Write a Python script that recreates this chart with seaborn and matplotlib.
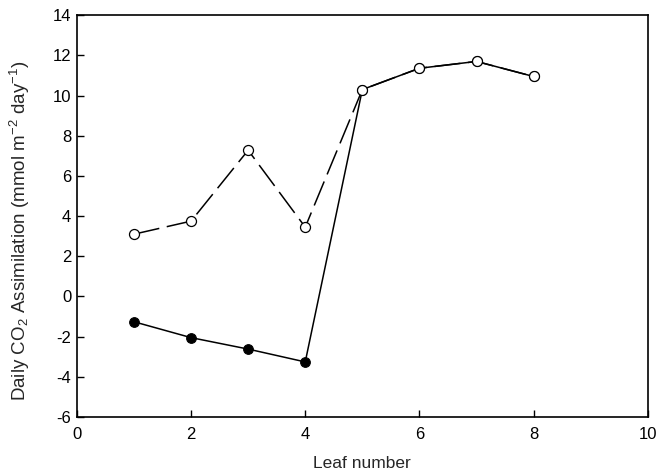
import matplotlib
matplotlib.use("Agg")
import matplotlib.pyplot as plt
import seaborn as sns
import pandas as pd

leaf = [1, 2, 3, 4, 5, 6, 7, 8]
open_vals = [3.1, 3.75, 7.28, 3.45, 10.3, 11.36, 11.7, 10.95]
filled_vals = [-1.26, -2.05, -2.62, -3.26, 10.3, 11.36, 11.7, 10.95]
x_ticks = [0, 2, 4, 6, 8, 10]
y_ticks = [-6, -4, -2, 0, 2, 4, 6, 8, 10, 12, 14]

sns.set_style("ticks")
plt.rcParams["font.family"] = ["Liberation Sans", "DejaVu Sans"]
plt.rcParams["mathtext.fontset"] = "custom"
plt.rcParams["mathtext.rm"] = "Liberation Sans"
plt.rcParams["mathtext.it"] = "Liberation Sans"
plt.rcParams["mathtext.default"] = "regular"
plt.rcParams["axes.unicode_minus"] = False

fig = plt.figure(figsize=(6.57, 4.76), dpi=100)
ax = fig.add_axes([0.117, 0.124, 0.869, 0.844])

df_f = pd.DataFrame({"leaf": leaf, "val": filled_vals})
df_o = pd.DataFrame({"leaf": leaf, "val": open_vals})

sns.lineplot(data=df_f, x="leaf", y="val", ax=ax, color="black", lw=1.1,
             marker="o", markersize=7, markerfacecolor="black",
             markeredgecolor="black", zorder=2)
sns.lineplot(data=df_o, x="leaf", y="val", ax=ax, color="black", lw=1.1,
             linestyle=(0, (17, 5)), marker="o", markersize=7.2,
             markerfacecolor="white", markeredgecolor="black",
             markeredgewidth=0.9, zorder=3)

ax.set_xlim(0, 10)
ax.set_ylim(-6, 14)
ax.set_xticks(x_ticks)
ax.set_yticks(y_ticks)
ax.tick_params(direction="in", length=5, width=1, labelsize=12,
               top=False, right=False, colors="black")
ax.tick_params(axis="x", pad=7)
ax.tick_params(axis="y", pad=4)
for s in ax.spines.values():
    s.set_visible(True)
    s.set_linewidth(1.2)
    s.set_color("black")

ax.set_xlabel("Leaf number", fontsize=12.5, labelpad=10)
ax.set_ylabel("Daily CO$_2$ Assimilation (mmol m$^{-2}$ day$^{-1}$)",
              fontsize=13.5)
ax.yaxis.set_label_coords(-0.078, 0.463)

fig.savefig("out.png", dpi=100)
